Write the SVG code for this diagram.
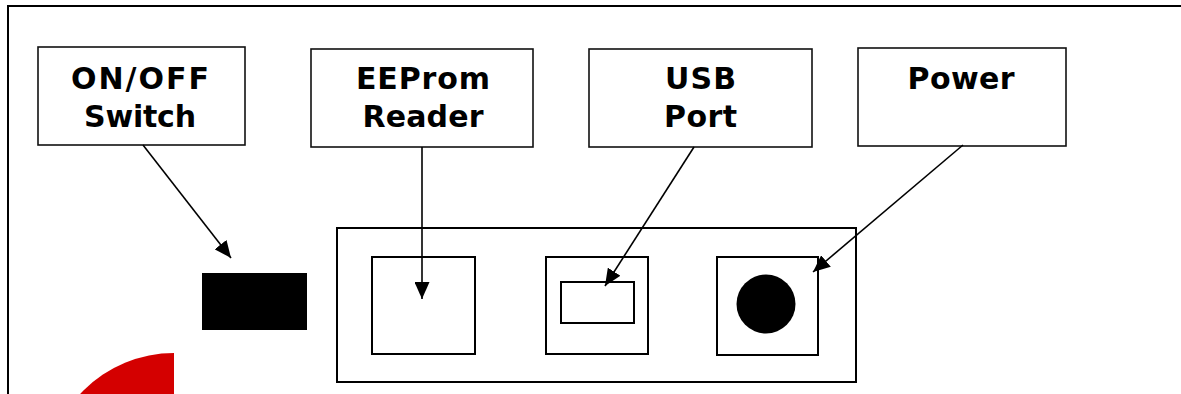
<svg xmlns="http://www.w3.org/2000/svg" width="1181" height="394" viewBox="0 0 1181 394">
  <style>
    .label { font-family: "DejaVu Sans", Verdana, sans-serif; font-weight: bold; font-size: 30px; fill: #000; text-anchor: middle; }
    .box { fill: #fff; stroke: #111; stroke-width: 1.6; }
    .part { fill: none; stroke: #000; stroke-width: 2; }
    .conn { stroke: #000; stroke-width: 1.6; fill: none; marker-end: url(#arrow); }
  </style>
  <defs>
    <marker id="arrow" viewBox="0 0 17 15" refX="17" refY="7.5" markerWidth="17" markerHeight="15" markerUnits="userSpaceOnUse" orient="auto">
      <path d="M0,0 L17,7.5 L0,15 Z" fill="#000"/>
    </marker>
  </defs>

  <rect width="1181" height="394" fill="#fff"/>

  <!-- device outline -->
  <rect id="frame" x="8" y="6" width="1200" height="500" fill="none" stroke="#000" stroke-width="2"/>

  <!-- red knob (partially visible) -->
  <path id="knob" d="M174,481 L174,353 A128,128 0 0 0 46,481 Z" fill="#d40000"/>

  <!-- switch body -->
  <rect id="switch" x="202" y="273" width="105" height="57" fill="#000"/>

  <!-- connector panel -->
  <g id="panel">
    <rect class="part" x="337" y="228" width="519" height="154"/>
    <rect id="eeprom-slot" class="part" x="372" y="257" width="103" height="97"/>
    <g id="usb-socket">
      <rect class="part" x="546" y="257" width="102" height="97"/>
      <rect class="part" x="561" y="282" width="73" height="41"/>
    </g>
    <g id="power-jack">
      <rect class="part" x="717" y="257" width="101" height="98"/>
      <circle cx="766" cy="304" r="29.5" fill="#000"/>
    </g>
  </g>

  <!-- callout labels -->
  <g id="label-switch">
    <rect class="box" x="38" y="47" width="207" height="98"/>
    <text class="label" x="140" y="89" textLength="138" lengthAdjust="spacing">ON/OFF</text>
    <text class="label" x="140" y="127" textLength="112" lengthAdjust="spacing">Switch</text>
  </g>
  <g id="label-eeprom">
    <rect class="box" x="311" y="49" width="222" height="98"/>
    <text class="label" x="423" y="89" textLength="134" lengthAdjust="spacing">EEProm</text>
    <text class="label" x="423" y="127" textLength="121" lengthAdjust="spacing">Reader</text>
  </g>
  <g id="label-usb">
    <rect class="box" x="589" y="49" width="223" height="98"/>
    <text class="label" x="700.5" y="89" textLength="71" lengthAdjust="spacing">USB</text>
    <text class="label" x="700.5" y="127" textLength="73" lengthAdjust="spacing">Port</text>
  </g>
  <g id="label-power">
    <rect class="box" x="858" y="48" width="208" height="98"/>
    <text class="label" x="961" y="89" textLength="107" lengthAdjust="spacing">Power</text>
  </g>

  <!-- connectors -->
  <g id="connectors">
    <line class="conn" x1="143" y1="145" x2="231" y2="258"/>
    <line class="conn" x1="422" y1="147" x2="422" y2="299"/>
    <line class="conn" x1="694" y1="147" x2="605" y2="286"/>
    <line class="conn" x1="963" y1="145" x2="813" y2="272"/>
  </g>
</svg>
